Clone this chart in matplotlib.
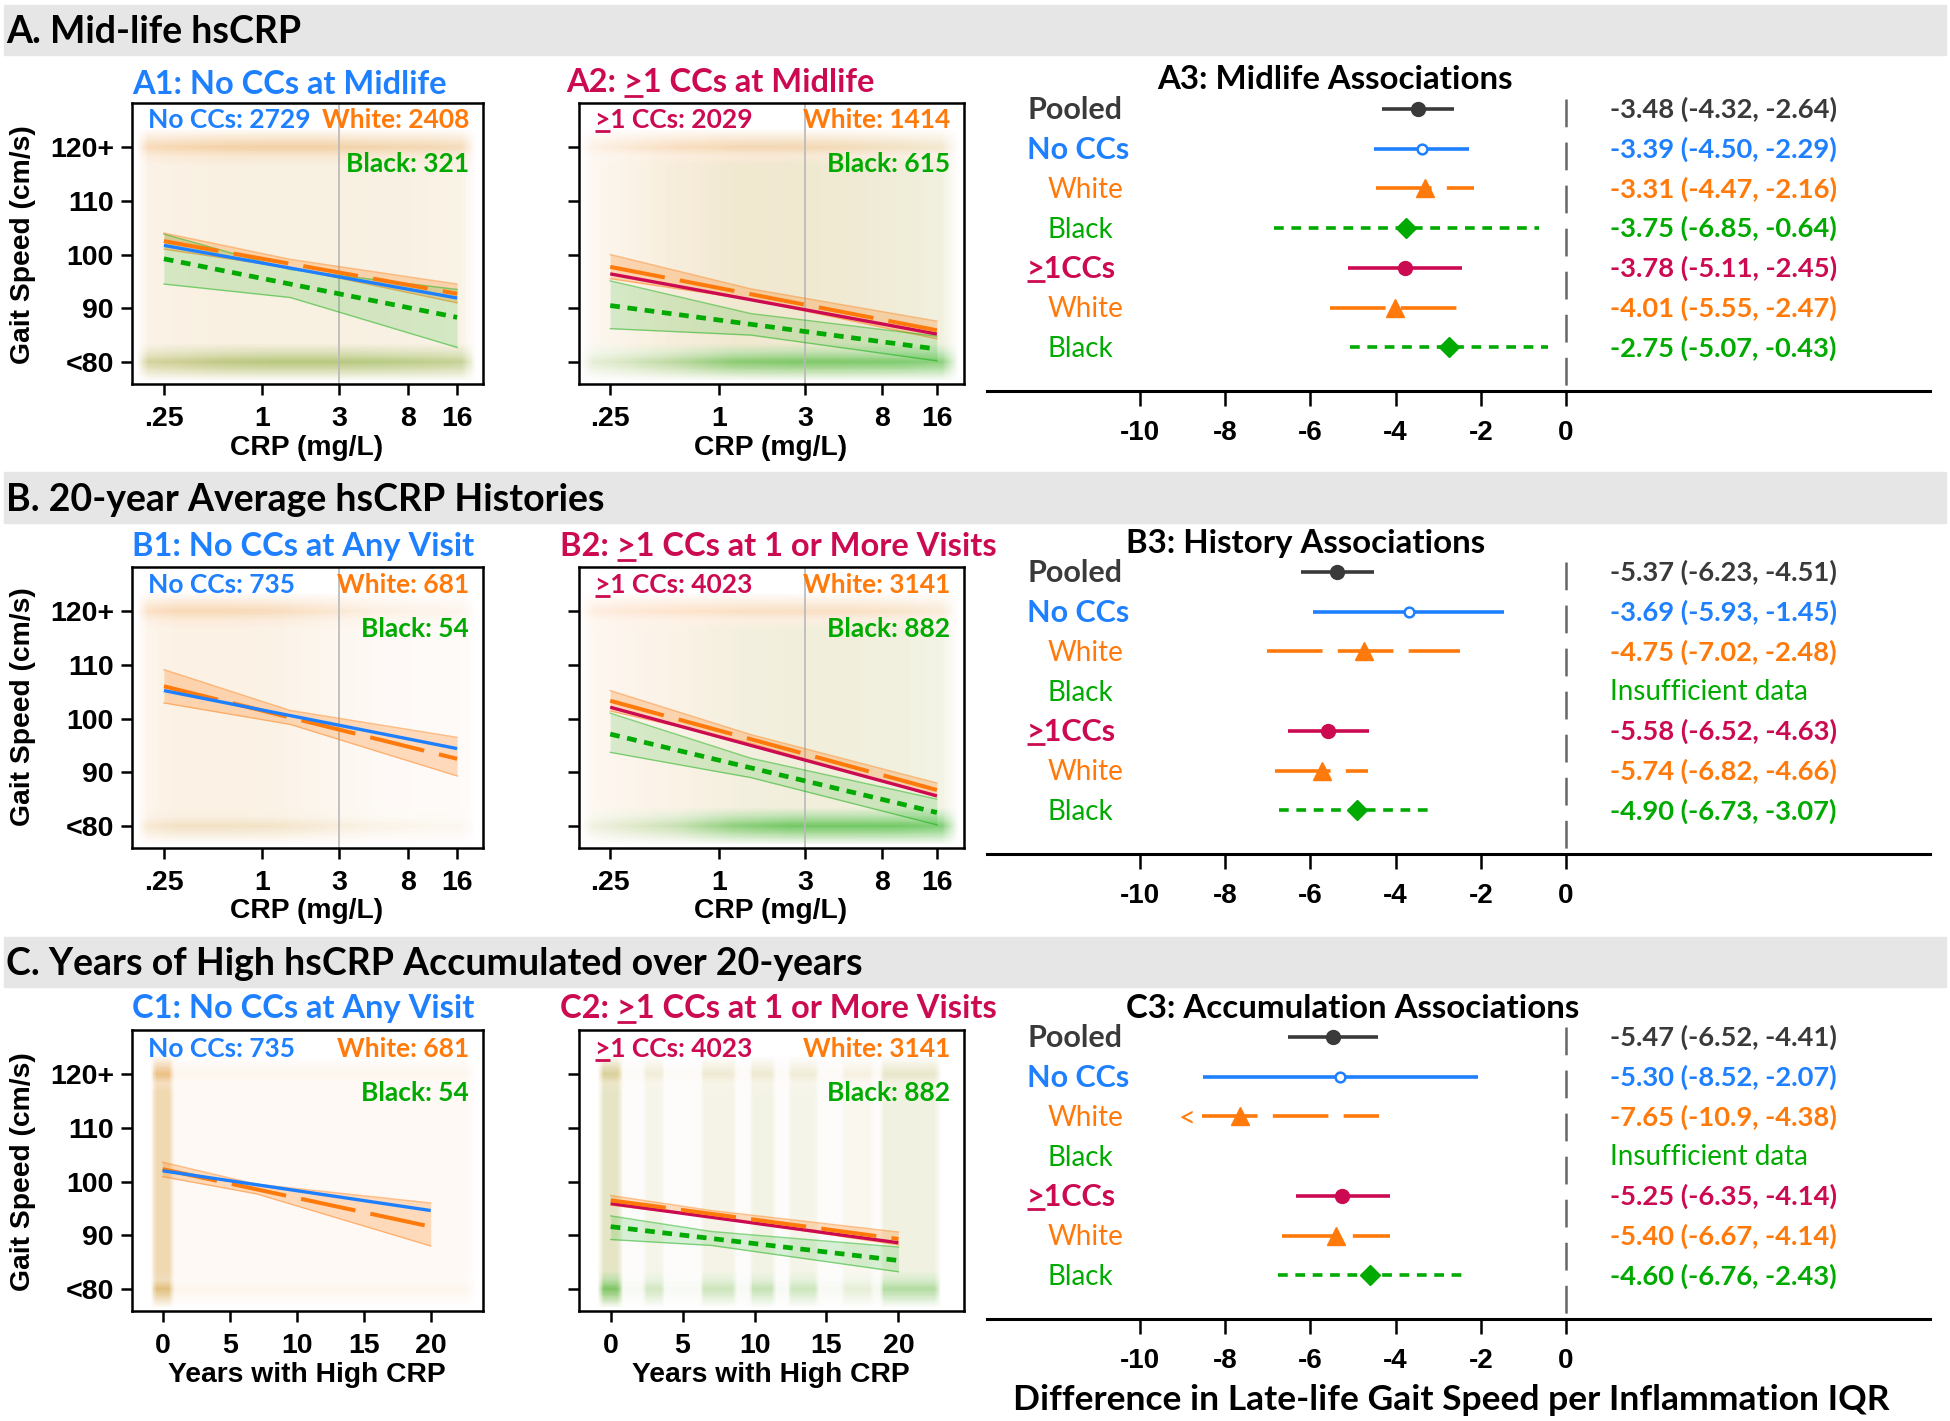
import numpy as np
import matplotlib.pyplot as plt
from matplotlib.colors import LinearSegmentedColormap, to_rgba
from matplotlib.lines import Line2D
from matplotlib.patches import Rectangle

plt.rcParams['font.family'] = ['Lato', 'DejaVu Sans']
plt.rcParams['lines.scale_dashes'] = False

# ---------------- values ----------------
gait_ticks = [80, 90, 100, 110, 120]
gait_ticklabels = ['<80', '90', '100', '110', '120+']
crp_ticks = [0.25, 1, 3, 8, 16]
crp_ticklabels = ['.25', '1', '3', '8', '16']
year_ticks = [0, 5, 10, 15, 20]
forest_ticks = [-10, -8, -6, -4, -2, 0]

# fitted lines (value at both ends) and 95% bands (start / middle / end)
crp_line_x = [0.25, 16]
crp_band_x = [0.25, 1.5, 16]
year_line_x = [0, 20]
year_band_x = [0, 7, 20]

a1_nocc = [101.7, 91.9]
a1_white = [102.5, 92.7]
a1_black = [99.2, 88.3]
a1_white_lo = [101.0, 97.5, 91.0]
a1_white_hi = [104.0, 99.1, 94.5]
a1_black_lo = [94.5, 92.0, 82.7]
a1_black_hi = [103.8, 97.2, 93.5]

a2_cc = [96.4, 85.2]
a2_white = [97.7, 85.9]
a2_black = [90.5, 82.4]
a2_white_lo = [95.5, 91.6, 84.3]
a2_white_hi = [100.0, 93.6, 87.6]
a2_black_lo = [86.2, 85.0, 80.2]
a2_black_hi = [95.1, 89.0, 84.8]

b1_nocc = [105.2, 94.4]
b1_white = [106.0, 92.5]
b1_white_lo = [102.9, 98.9, 89.3]
b1_white_hi = [109.1, 101.5, 96.5]

b2_cc = [102.1, 85.6]
b2_white = [103.3, 86.7]
b2_black = [97.1, 82.5]
b2_white_lo = [101.4, 95.4, 85.4]
b2_white_hi = [105.2, 97.0, 88.0]
b2_black_lo = [93.7, 89.0, 80.2]
b2_black_hi = [101.0, 92.6, 85.0]

c1_nocc = [102.0, 94.6]
c1_white = [102.3, 91.6]
c1_white_lo = [100.9, 97.7, 88.0]
c1_white_hi = [103.6, 99.5, 96.0]

c2_cc = [95.9, 88.6]
c2_white = [96.5, 89.3]
c2_black = [91.6, 85.3]
c2_white_lo = [95.6, 93.4, 88.2]
c2_white_hi = [97.4, 94.6, 90.6]
c2_black_lo = [89.2, 88.1, 83.2]
c2_black_hi = [93.6, 90.7, 87.8]

# sample sizes printed in the panels
a1_notes = ['No CCs: 2729', 'White: 2408', 'Black: 321']
a2_notes = ['>1 CCs: 2029', 'White: 1414', 'Black: 615']
b1_notes = ['No CCs: 735', 'White: 681', 'Black: 54']
b2_notes = ['>1 CCs: 4023', 'White: 3141', 'Black: 882']
c1_notes = ['No CCs: 735', 'White: 681', 'Black: 54']
c2_notes = ['>1 CCs: 4023', 'White: 3141', 'Black: 882']

# rough density of the raw point clouds (eyeballed): x profile, and
# (floor band, middle, ceiling band) strength, max opacity
gait_nodes = [76.5, 78.3, 80, 81.7, 83.5, 92, 100, 108, 116.5, 118.3, 120, 121.7, 123.5]
crp_nodes = [0.17, 0.2, 0.3, 0.6, 1.2, 2.5, 5, 10, 17, 21]
a1_orange_x = [0, .8, .9, 1, 1, 1, .9, .85, .75, 0]
a1_green_x = [0, .6, .7, .9, 1, 1, 1, .9, .8, 0]
a2_orange_x = [0, .35, .55, .85, 1, 1, .9, .7, .55, 0]
a2_green_x = [0, .2, .3, .55, .9, 1, 1, 1, .9, 0]
b1_orange_x = [0, .8, 1, 1, .9, .65, .4, .3, .25, 0]
b1_green_x = [0, .5, 1, 1, 1, .6, .4, .3, .3, 0]
b2_orange_x = [0, .55, .75, .9, 1, 1, 1, .85, .6, 0]
b2_green_x = [0, .1, .2, .4, .8, 1, 1, 1, .9, 0]
c1_nodes = [-0.9, -0.45, 0.45, 0.9, 1.5, 22.5, 23.5]
c1_orange_x = [0, 1, 1, .14, .14, .14, 0]
c1_green_x = [0, 1, 1, .1, .1, .1, 0]
c2_nodes = [-0.9, -0.45, 0.45, 0.9, 2.2, 2.5, 3.5, 3.8, 6.2, 6.5, 8.5, 8.8, 9.6, 9.9,
            11.2, 11.5, 12.3, 12.6, 14.2, 14.5, 16, 16.3, 18, 18.3, 18.7, 19, 22.5, 23]
c2_orange_x = [0, 1, 1, .08, .08, .35, .35, .08, .08, .4, .4, .08, .08, .4, .4, .08,
               .08, .35, .35, .08, .08, .3, .3, .1, .1, .45, .45, 0]
c2_green_x = [0, 1, 1, .06, .06, .35, .35, .06, .06, .4, .4, .06, .06, .45, .45, .06,
              .06, .4, .4, .06, .06, .2, .2, .08, .08, .6, .6, 0]

# forest plots
row_labels = ['Pooled', 'No CCs', 'White', 'Black', '>1CCs', 'White', 'Black']
a3_est = [-3.48, -3.39, -3.31, -3.75, -3.78, -4.01, -2.75]
a3_lo = [-4.32, -4.50, -4.47, -6.85, -5.11, -5.55, -5.07]
a3_hi = [-2.64, -2.29, -2.16, -0.64, -2.45, -2.47, -0.43]
b3_est = [-5.37, -3.69, -4.75, np.nan, -5.58, -5.74, -4.90]
b3_lo = [-6.23, -5.93, -7.02, np.nan, -6.52, -6.82, -6.73]
b3_hi = [-4.51, -1.45, -2.48, np.nan, -4.63, -4.66, -3.07]
c3_est = [-5.47, -5.30, -7.65, np.nan, -5.25, -5.40, -4.60]
c3_lo = [-6.52, -8.52, -10.9, np.nan, -6.35, -6.67, -6.76]
c3_hi = [-4.41, -2.07, -4.38, np.nan, -4.14, -4.14, -2.43]

# ---------------- styling ----------------
BLUE = '#1f80ff'
RED = '#cc0a52'
ORANGE = '#ff7a0a'
GREEN = '#00aa00'
DARK = '#3a3a3a'
LONG = (40, 11)
SHORT = (7, 5.5)
NUMFONT = dict(fontsize=20.5, fontweight='bold', family='Liberation Sans')
FNUMFONT = dict(fontsize=20, fontweight='bold', family='Liberation Sans')
AXFONT = dict(fontsize=20.3, fontweight='bold', family='Liberation Sans')

W, H = 1950, 1421
fig = plt.figure(figsize=(W / 100, H / 100), dpi=100)
ul_texts = []


def fx(x):
    return x / W


def fy(y):
    return 1 - y / H


def px_axes(left, top, right, bottom):
    return fig.add_axes([fx(left), fy(bottom), (right - left) / W, (bottom - top) / H])


def ftext(x, y, s, **kw):
    t = fig.text(fx(x), fy(y), s, **kw)
    if '>' in s:
        ul_texts.append(t)
    return t


def profile(floor, mid, ceil):
    return [0, .5 * floor, floor, .5 * floor, mid, mid, mid, mid, mid, .5 * ceil, ceil, .5 * ceil, 0]


def cloud(ax, xn, xw, rows, color, amax, log=False):
    if log:
        xs = 2 ** np.linspace(np.log2(xn[0]), np.log2(xn[-1]), 400)
        col = np.interp(np.log2(xs), np.log2(xn), xw)
    else:
        xs = np.linspace(xn[0], xn[-1], 400)
        col = np.interp(xs, xn, xw)
    ys = np.linspace(gait_nodes[0], gait_nodes[-1], 300)
    row = np.interp(ys, gait_nodes, rows)
    z = np.outer(row, col)
    cmap = LinearSegmentedColormap.from_list('c', [to_rgba(color, 0), to_rgba(color, amax)])
    ax.pcolormesh(xs, ys, z, shading='nearest', cmap=cmap, vmin=0, vmax=1, zorder=0,
                  antialiased=False, edgecolors='none', rasterized=True)


def band(ax, x, lo, hi, color, alpha):
    ax.fill_between(x, lo, hi, color=color, alpha=alpha, lw=0, zorder=2)
    ax.plot(x, lo, color=color, alpha=0.45, lw=1, zorder=2)
    ax.plot(x, hi, color=color, alpha=0.45, lw=1, zorder=2)


def fit(ax, x, y, color, lw, dashes=None):
    kw = dict(dashes=dashes) if dashes else {}
    ax.plot(x, y, color=color, lw=lw, solid_capstyle='butt', dash_capstyle='butt', zorder=4, **kw)


def panel(box, kind, xlim, show_ylabels):
    ax = px_axes(*box)
    if kind == 'crp':
        ax.set_xscale('log', base=2)
        ax.set_xticks(crp_ticks, crp_ticklabels, **NUMFONT)
        ax.axvline(3, color='#b8b8b8', lw=1.2, zorder=1)
    else:
        ax.set_xticks(year_ticks, [str(v) for v in year_ticks], **NUMFONT)
    ax.minorticks_off()
    ax.set_xlim(*xlim)
    ax.set_ylim(75.9, 128.2)
    ax.set_yticks(gait_ticks)
    if show_ylabels:
        ax.set_yticklabels(gait_ticklabels, **NUMFONT)
    else:
        ax.tick_params(axis='y', labelleft=False)
    for s in ax.spines.values():
        s.set_linewidth(1.8)
    ax.tick_params(direction='out', length=8, width=1.8)
    ax.tick_params(axis='x', pad=8)
    ax.tick_params(axis='y', pad=5)
    return ax


def notes(box, top_base, texts, first_color):
    left, right = box[0], box[2]
    ftext(left + 16, top_base, texts[0], color=first_color, fontsize=19, fontweight='bold')
    ftext(right - 14, top_base, texts[1], color=ORANGE, fontsize=19, fontweight='bold', ha='right')
    ftext(right - 14, top_base + 44, texts[2], color=GREEN, fontsize=19, fontweight='bold', ha='right')


def ci_text(e, lo, hi):
    def f(v):
        return f'{v:.1f}' if abs(v) >= 10 else f'{v:.2f}'
    return f'{f(e)} ({f(lo)}, {f(hi)})'


row_colors = [DARK, BLUE, ORANGE, GREEN, RED, ORANGE, GREEN]
row_bold = [True, True, False, False, True, False, False]
row_x = [-12.65, -12.65, -12.18, -12.18, -12.65, -12.18, -12.18]
row_marker = ['o', 'o', '^', 'D', 'o', '^', 'D']
row_ms = [10, 7, 13, 10, 10, 13, 10]
row_dashes = [None, None, LONG, SHORT, None, LONG, SHORT]
ROW = 39.7
CLIP = -8.55


def forest(row0, est, lo, hi):
    ax = px_axes(987, row0 - 0.5 * ROW, 1930, row0 + 7.1 * ROW)
    ax.set_xlim(-13.59, 8.54)
    ax.set_ylim(7.1, -0.5)
    for k in ['left', 'right', 'top']:
        ax.spines[k].set_visible(False)
    ax.spines['bottom'].set_linewidth(2.2)
    ax.set_yticks([])
    ax.set_xticks(forest_ticks, [str(v) for v in forest_ticks], **FNUMFONT)
    ax.tick_params(axis='x', direction='out', length=11, width=1.8, pad=10)
    ax.plot([0, 0], [-0.25, 7.1], color='#666666', lw=1.8, dashes=(20, 11), zorder=1)
    for i in range(7):
        c = row_colors[i]
        t = ax.text(row_x[i], i + 0.25, row_labels[i], color=c,
                    fontsize=22 if row_bold[i] else 20,
                    fontweight='bold' if row_bold[i] else 'normal', va='baseline')
        if '>' in row_labels[i]:
            ul_texts.append(t)
        if np.isnan(est[i]):
            ax.text(1.03, i + 0.23, 'Insufficient data', color=c, fontsize=20, va='baseline')
            continue
        left = max(lo[i], CLIP)
        kw = dict(dashes=row_dashes[i]) if row_dashes[i] else {}
        ax.plot([left, hi[i]], [i, i], color=c, lw=2.6, solid_capstyle='butt',
                dash_capstyle='butt', zorder=3, **kw)
        if lo[i] < CLIP:
            ax.text(left - 0.15, i + 0.05, '<', color=c, fontsize=21, ha='right', va='center')
        ax.plot([est[i]], [i], marker=row_marker[i], ms=row_ms[i],
                mfc='white' if i == 1 else c, mec=c, mew=1.8 if i == 1 else 1,
                ls='none', zorder=4)
        ax.text(1.03, i + 0.23, ci_text(est[i], lo[i], hi[i]), color=c, fontsize=19.7,
                fontweight='bold', va='baseline')
    return ax


# ---------------- section headers ----------------
for top, bottom, base, label in [(5, 55, 43, 'A. Mid-life hsCRP'),
                                 (472, 523, 511, 'B. 20-year Average hsCRP Histories'),
                                 (937, 987, 975, 'C. Years of High hsCRP Accumulated over 20-years')]:
    fig.add_artist(Rectangle((fx(4), fy(bottom)), 1942 / W, (bottom - top) / H,
                             transform=fig.transFigure, color='#e6e6e6', zorder=0))
    ftext(6, base, label, fontsize=27, fontweight='bold')

# ---------------- A: midlife ----------------
box = (132, 103, 483, 384)
ax = panel(box, 'crp', (0.159, 23.1), True)
cloud(ax, crp_nodes, a1_orange_x, profile(1.0, .3, 1.0), ORANGE, .32, log=True)
cloud(ax, crp_nodes, a1_green_x, profile(.8, .08, .15), GREEN, .35, log=True)
band(ax, crp_band_x, a1_white_lo, a1_white_hi, ORANGE, .25)
band(ax, crp_band_x, a1_black_lo, a1_black_hi, GREEN, .15)
fit(ax, crp_line_x, a1_black, GREEN, 3.4, SHORT)
fit(ax, crp_line_x, a1_white, ORANGE, 2.9, LONG)
fit(ax, crp_line_x, a1_nocc, BLUE, 2.4)
notes(box, 128, a1_notes, BLUE)
ftext(132, 94, 'A1: No CCs at Midlife', color=BLUE, fontsize=23.5, fontweight='bold')

box = (579, 103, 964, 384)
ax = panel(box, 'crp', (0.168, 22.6), False)
cloud(ax, crp_nodes, a2_orange_x, profile(.6, .45, .9), ORANGE, .3, log=True)
cloud(ax, crp_nodes, a2_green_x, profile(1.0, .12, .1), GREEN, .5, log=True)
band(ax, crp_band_x, a2_white_lo, a2_white_hi, ORANGE, .25)
band(ax, crp_band_x, a2_black_lo, a2_black_hi, GREEN, .15)
fit(ax, crp_line_x, a2_black, GREEN, 3.4, SHORT)
fit(ax, crp_line_x, a2_cc, RED, 2.4)
fit(ax, crp_line_x, a2_white, ORANGE, 2.9, LONG)
notes(box, 128, a2_notes, RED)
ftext(566, 92, 'A2: >1 CCs at Midlife', color=RED, fontsize=23.5, fontweight='bold')

forest(109, a3_est, a3_lo, a3_hi)
ftext(1157, 89, 'A3: Midlife Associations', fontsize=23.8, fontweight='bold')

# ---------------- B: 20-year averages ----------------
box = (132, 567, 483, 848)
ax = panel(box, 'crp', (0.159, 23.1), True)
cloud(ax, crp_nodes, b1_orange_x, profile(.65, .3, .9), ORANGE, .3, log=True)
cloud(ax, crp_nodes, b1_green_x, profile(.5, .15, .3), GREEN, .1, log=True)
band(ax, crp_band_x, b1_white_lo, b1_white_hi, ORANGE, .25)
fit(ax, crp_line_x, b1_white, ORANGE, 2.9, LONG)
fit(ax, crp_line_x, b1_nocc, BLUE, 2.4)
notes(box, 593, b1_notes, BLUE)
ftext(132, 556, 'B1: No CCs at Any Visit', color=BLUE, fontsize=23.5, fontweight='bold')

box = (579, 567, 964, 848)
ax = panel(box, 'crp', (0.168, 22.6), False)
cloud(ax, crp_nodes, b2_orange_x, profile(.5, .35, .85), ORANGE, .25, log=True)
cloud(ax, crp_nodes, b2_green_x, profile(1.0, .1, .05), GREEN, .55, log=True)
band(ax, crp_band_x, b2_white_lo, b2_white_hi, ORANGE, .25)
band(ax, crp_band_x, b2_black_lo, b2_black_hi, GREEN, .15)
fit(ax, crp_line_x, b2_black, GREEN, 3.4, SHORT)
fit(ax, crp_line_x, b2_cc, RED, 2.4)
fit(ax, crp_line_x, b2_white, ORANGE, 2.9, LONG)
notes(box, 593, b2_notes, RED)
ftext(560, 556, 'B2: >1 CCs at 1 or More Visits', color=RED, fontsize=23.5, fontweight='bold')

forest(572, b3_est, b3_lo, b3_hi)
ftext(1126, 553, 'B3: History Associations', fontsize=23.8, fontweight='bold')

# ---------------- C: accumulation ----------------
box = (132, 1030, 483, 1311)
ax = panel(box, 'years', (-2.28, 23.9), True)
cloud(ax, c1_nodes, c1_orange_x, profile(1.0, .6, 1.0), ORANGE, .45)
cloud(ax, c1_nodes, c1_green_x, profile(.6, .3, .4), GREEN, .2)
band(ax, year_band_x, c1_white_lo, c1_white_hi, ORANGE, .25)
fit(ax, year_line_x, c1_white, ORANGE, 2.9, LONG)
fit(ax, year_line_x, c1_nocc, BLUE, 2.4)
notes(box, 1057, c1_notes, BLUE)
ftext(132, 1018, 'C1: No CCs at Any Visit', color=BLUE, fontsize=23.5, fontweight='bold')

box = (579, 1030, 964, 1311)
ax = panel(box, 'years', (-2.2, 24.56), False)
cloud(ax, c2_nodes, c2_orange_x, profile(.6, .4, .85), ORANGE, .35)
cloud(ax, c2_nodes, c2_green_x, profile(1.0, .2, .3), GREEN, .5)
band(ax, year_band_x, c2_white_lo, c2_white_hi, ORANGE, .25)
band(ax, year_band_x, c2_black_lo, c2_black_hi, GREEN, .15)
fit(ax, year_line_x, c2_black, GREEN, 3.4, SHORT)
fit(ax, year_line_x, c2_cc, RED, 2.4)
fit(ax, year_line_x, c2_white, ORANGE, 2.9, LONG)
notes(box, 1057, c2_notes, RED)
ftext(560, 1018, 'C2: >1 CCs at 1 or More Visits', color=RED, fontsize=23.5, fontweight='bold')

forest(1037, c3_est, c3_lo, c3_hi)
ftext(1126, 1018, 'C3: Accumulation Associations', fontsize=23.8, fontweight='bold')

# ---------------- shared axis labels ----------------
for yc in [245, 707, 1172]:
    ftext(23, yc, 'Gait Speed (cm/s)', rotation=90, ha='center', va='center', **AXFONT)
for base in [455, 918]:
    ftext(307, base, 'CRP (mg/L)', ha='center', **AXFONT)
    ftext(771, base, 'CRP (mg/L)', ha='center', **AXFONT)
ftext(307, 1382, 'Years with High CRP', ha='center', **AXFONT)
ftext(771, 1382, 'Years with High CRP', ha='center', **AXFONT)
ftext(1451, 1410, 'Difference in Late-life Gait Speed per Inflammation IQR',
      ha='center', fontsize=25.5, fontweight='bold')

# ---------------- underline the ">" (reads as "at least") ----------------
renderer = fig.canvas.get_renderer()
inv = fig.transFigure.inverted()
for t in ul_texts:
    s = t.get_text()
    i = s.index('>')
    fp = t.get_fontproperties()
    w_upto = renderer.get_text_width_height_descent(s[:i + 1], fp, ismath=False)[0]
    w_gt = renderer.get_text_width_height_descent('>', fp, ismath=False)[0]
    d_lp = renderer.get_text_width_height_descent('lp', fp, ismath=False)[2]
    bb = t.get_window_extent(renderer)
    size_px = fp.get_size_in_points() / 72 * fig.dpi
    yline = bb.y0 + d_lp - 0.12 * size_px
    (x0, y0), (x1, y1) = inv.transform([(bb.x0 + w_upto - w_gt, yline), (bb.x0 + w_upto, yline)])
    fig.add_artist(Line2D([x0, x1], [y0, y1], color=t.get_color(), lw=2.0,
                          solid_capstyle='butt', transform=fig.transFigure))

fig.savefig('out.png', dpi=100)
